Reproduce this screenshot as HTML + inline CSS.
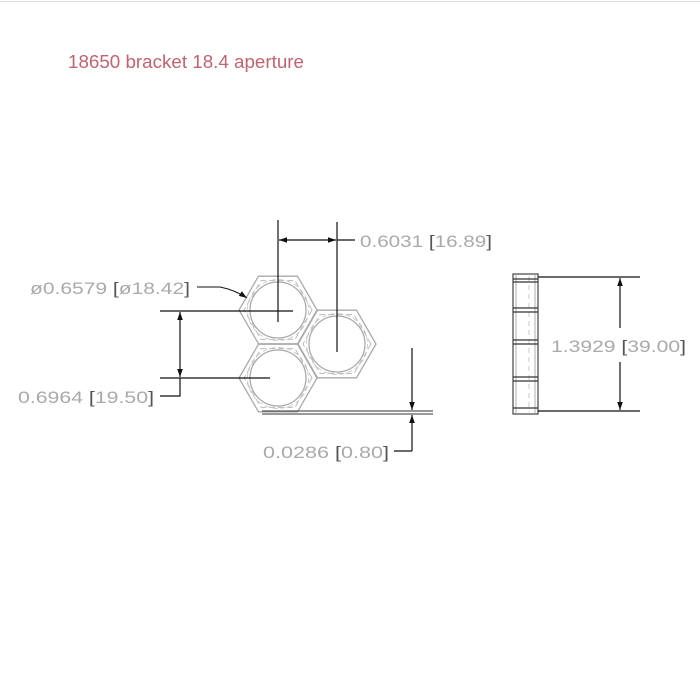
<!DOCTYPE html>
<html><head><meta charset="utf-8"><style>
html,body{margin:0;padding:0;background:#fff;width:700px;height:700px;overflow:hidden}
svg{display:block}
.t{font-family:"Liberation Sans",sans-serif;fill:#aaa;font-size:17px}
.b{fill:#555}
</style></head><body>
<svg width="700" height="700" viewBox="0 0 700 700" xmlns="http://www.w3.org/2000/svg">
<defs>
<marker id="a" viewBox="0 0 10 10" refX="10" refY="5" markerWidth="11" markerHeight="8" markerUnits="userSpaceOnUse" orient="auto-start-reverse"><path d="M0,1.5 L10,5 L0,8.5z" fill="#111"/></marker>
<g id="hx">
<polygon points="39,0 19.5,33.8 -19.5,33.8 -39,0 -19.5,-33.8 19.5,-33.8" fill="none" stroke="#aaa" stroke-width="1.3"/>
<polygon points="34,0 17,29.4 -17,29.4 -34,0 -17,-29.4 17,-29.4" fill="none" stroke="#bbb" stroke-width="1" stroke-dasharray="6,3"/>
<circle r="28" fill="none" stroke="#aaa" stroke-width="1.3"/>
<circle r="30.5" fill="none" stroke="#c4c4c4" stroke-width="0.8" stroke-dasharray="5,3"/>
</g>
</defs>
<line x1="0" y1="1.5" x2="700" y2="1.5" stroke="#ddd" stroke-width="1"/>
<text x="68" y="68" font-family="Liberation Sans,sans-serif" font-size="18.5" fill="#bf6470" textLength="236" lengthAdjust="spacingAndGlyphs">18650 bracket 18.4 aperture</text>

<use href="#hx" x="278" y="310"/>
<use href="#hx" x="337" y="344"/>
<use href="#hx" x="278" y="378"/>

<!-- top dimension -->
<line x1="278" y1="220" x2="278" y2="322" stroke="#111" stroke-width="1.2"/>
<line x1="337" y1="222" x2="337" y2="352" stroke="#111" stroke-width="1.2"/>
<line x1="279" y1="240" x2="336" y2="240" stroke="#111" stroke-width="1.2" marker-start="url(#a)" marker-end="url(#a)"/>
<line x1="337" y1="240" x2="355" y2="240" stroke="#111" stroke-width="1.2"/>
<text class="t" x="360" y="247" textLength="132" lengthAdjust="spacingAndGlyphs">0.6031 <tspan class="b">[</tspan>16.89<tspan class="b">]</tspan></text>

<!-- diameter -->
<text class="t" x="30" y="294" textLength="160" lengthAdjust="spacingAndGlyphs">ø0.6579 <tspan class="b">[</tspan>ø18.42<tspan class="b">]</tspan></text>
<path d="M197,287 L220,287 Q235,290 247,298" fill="none" stroke="#111" stroke-width="1" marker-end="url(#a)"/>

<!-- left vertical dimension -->
<line x1="160" y1="311" x2="293" y2="311" stroke="#111" stroke-width="1.2"/>
<line x1="160" y1="378" x2="270" y2="378" stroke="#111" stroke-width="1.2"/>
<line x1="180" y1="312" x2="180" y2="377" stroke="#111" stroke-width="1.2" marker-start="url(#a)" marker-end="url(#a)"/>
<polyline points="160,396 180,396 180,378" fill="none" stroke="#111" stroke-width="1.2"/>
<text class="t" x="18" y="403" textLength="136" lengthAdjust="spacingAndGlyphs">0.6964 <tspan class="b">[</tspan>19.50<tspan class="b">]</tspan></text>

<!-- base plate -->
<line x1="262" y1="411" x2="433" y2="411" stroke="#333" stroke-width="1"/>
<line x1="262" y1="414" x2="433" y2="414" stroke="#333" stroke-width="1"/>
<line x1="412" y1="348" x2="412" y2="410" stroke="#111" stroke-width="1.2" marker-end="url(#a)"/>
<line x1="412" y1="415" x2="412" y2="451" stroke="#111" stroke-width="1.2" marker-start="url(#a)"/>
<line x1="394" y1="451" x2="412" y2="451" stroke="#111" stroke-width="1.2"/>
<text class="t" x="263" y="458" textLength="126" lengthAdjust="spacingAndGlyphs">0.0286 <tspan class="b">[</tspan>0.80<tspan class="b">]</tspan></text>

<!-- side view -->
<rect x="513" y="274" width="25" height="140" fill="#fff" stroke="#444" stroke-width="1.2"/>
<line x1="516" y1="274" x2="516" y2="414" stroke="#999" stroke-width="0.8"/>
<line x1="535" y1="274" x2="535" y2="414" stroke="#999" stroke-width="0.8"/>
<line x1="529" y1="276" x2="529" y2="412" stroke="#bbb" stroke-width="0.8" stroke-dasharray="5,4"/>
<g stroke="#333" stroke-width="1.2">
<line x1="513" y1="279" x2="538" y2="279"/><line x1="513" y1="282" x2="538" y2="282"/>
<line x1="513" y1="308" x2="538" y2="308"/><line x1="513" y1="312" x2="538" y2="312"/>
<line x1="513" y1="340" x2="538" y2="340"/><line x1="513" y1="344" x2="538" y2="344"/>
<line x1="513" y1="377" x2="538" y2="377"/><line x1="513" y1="381" x2="538" y2="381"/>
<line x1="513" y1="408" x2="538" y2="408"/>
</g>
<line x1="538" y1="277" x2="640" y2="277" stroke="#111" stroke-width="1.2"/>
<line x1="538" y1="411" x2="640" y2="411" stroke="#111" stroke-width="1.2"/>
<line x1="620" y1="278" x2="620" y2="328" stroke="#111" stroke-width="1.2" marker-start="url(#a)"/>
<line x1="620" y1="362" x2="620" y2="410" stroke="#111" stroke-width="1.2" marker-end="url(#a)"/>
<text class="t" x="551" y="352" textLength="135" lengthAdjust="spacingAndGlyphs">1.3929 <tspan class="b">[</tspan>39.00<tspan class="b">]</tspan></text>
</svg>
</body></html>
